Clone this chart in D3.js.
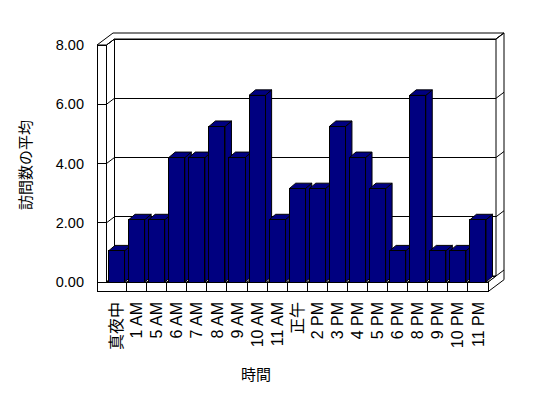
<!DOCTYPE html>
<html>
<head>
<meta charset="utf-8">
<script src="https://cdn.jsdelivr.net/npm/d3@7/dist/d3.min.js"></script>
<style>
  body { margin: 0; background: #fff; }
  text { font-family: "Liberation Sans", Arial, "Noto Sans CJK JP", sans-serif; fill: #000; }
</style>
</head>
<body>
<script>
var categories = ["真夜中", "1 AM", "5 AM", "6 AM", "7 AM", "8 AM", "9 AM", "10 AM", "11 AM", "正午",
                  "2 PM", "3 PM", "4 PM", "5 PM", "6 PM", "8 PM", "9 PM", "10 PM", "11 PM"];
var visits = [1.05, 2.1, 2.1, 4.2, 4.2, 5.25, 4.2, 6.3, 2.1, 3.15,
              3.15, 5.25, 4.2, 3.15, 1.05, 6.3, 1.05, 1.05, 2.1];
var yTicks = [0, 2, 4, 6, 8];
var yTitle = "訪問数の平均";
var xTitle = "時間";

(function(){
    var width = 548, height = 398;
    // front plane of the plot box
    var left = 106.5, right = 488, top = 45, bottom = 282;
    var wall = 9.5, floorH = 9.7;
    var dx = 8, dy = -6;        // depth to back wall
    var bdx = 6.5, bdy = -5.5;  // bar depth
    var navy = "#000080";

    var x = d3.scaleBand()
        .domain(categories)
        .range([left, right])
        .paddingInner(0.2)
        .paddingOuter(0.1);

    var y = d3.scaleLinear()
        .domain([0, 8])
        .range([bottom, top]);

    var fmt = d3.format(".2f");

    var svg = d3.select("body").append("svg")
        .attr("width", width)
        .attr("height", height);

    function poly(pts) { return pts.map(function(p) { return p.join(","); }).join(" "); }

    var box = svg.append("g")
        .attr("fill", "#fff")
        .attr("stroke", "#000")
        .attr("stroke-width", 1);

    // back wall
    box.append("rect")
        .attr("x", left + dx).attr("y", top + dy)
        .attr("width", right - left).attr("height", bottom - top)
        .attr("shape-rendering", "crispEdges");

    // left wall inner face
    box.append("polygon")
        .attr("points", poly([[left, top], [left + dx, top + dy], [left + dx, bottom + dy], [left, bottom]]));

    // top of walls
    box.append("polygon")
        .attr("points", poly([[left - wall, top], [left - wall + 2 * dx, top + 2 * dy], [right + 2 * dx, top + 2 * dy],
                              [right + dx, top + dy], [left + dx, top + dy], [left, top]]));

    // left wall front face
    box.append("rect")
        .attr("x", left - wall).attr("y", top)
        .attr("width", wall).attr("height", bottom - top)
        .attr("shape-rendering", "crispEdges");

    // right end of back wall and floor
    box.append("polygon")
        .attr("points", poly([[right + dx, top + dy], [right + 2 * dx, top + 2 * dy], [right + 2 * dx, bottom + floorH + 2 * dy],
                              [right, bottom + floorH], [right, bottom], [right + dx, bottom + dy]]));

    // floor top
    box.append("polygon")
        .attr("points", poly([[left, bottom], [right, bottom], [right + dx, bottom + dy], [left + dx, bottom + dy]]));

    // floor front face
    box.append("rect")
        .attr("x", left - wall).attr("y", bottom)
        .attr("width", right - left + wall).attr("height", floorH)
        .attr("shape-rendering", "crispEdges");

    // gridlines
    var grid = svg.append("g").attr("stroke", "#000").attr("stroke-width", 1);
    yTicks.forEach(function(t) {
        var yy = y(t);
        grid.append("line").attr("x1", left + dx).attr("x2", right + dx)
            .attr("y1", yy + dy).attr("y2", yy + dy).attr("shape-rendering", "crispEdges");
        grid.append("line").attr("x1", left).attr("x2", left + dx)
            .attr("y1", yy).attr("y2", yy + dy);
        grid.append("line").attr("x1", left - wall).attr("x2", left)
            .attr("y1", yy).attr("y2", yy).attr("shape-rendering", "crispEdges");
        grid.append("line").attr("x1", right + dx).attr("x2", right + 2 * dx)
            .attr("y1", yy + dy).attr("y2", yy + 2 * dy);
    });

    // category dividers on the floor
    var half = x.step() * x.paddingInner() / 2;
    categories.slice(1).forEach(function(c) {
        var bx = x(c) - half;
        grid.append("line").attr("x1", bx).attr("x2", bx)
            .attr("y1", bottom).attr("y2", bottom + floorH).attr("shape-rendering", "crispEdges");
        grid.append("line").attr("x1", bx).attr("x2", bx + dx)
            .attr("y1", bottom).attr("y2", bottom + dy);
    });

    // bars
    var bar = svg.selectAll(".bar")
        .data(categories.map(function(c, i) { return {cat: c, value: visits[i]}; }))
      .enter().append("g")
        .attr("class", "bar")
        .attr("fill", navy)
        .attr("stroke", "#000")
        .attr("stroke-width", 1);

    bar.append("polygon")
        .attr("points", function(d) {
            var x0 = x(d.cat) + x.bandwidth(), yt = y(d.value), yb = y(0);
            return poly([[x0, yb], [x0, yt], [x0 + bdx, yt + bdy], [x0 + bdx, yb + bdy]]);
        });

    bar.append("polygon")
        .attr("points", function(d) {
            var x0 = x(d.cat), x1 = x0 + x.bandwidth(), yt = y(d.value);
            return poly([[x0, yt], [x1, yt], [x1 + bdx, yt + bdy], [x0 + bdx, yt + bdy]]);
        });

    bar.append("rect")
        .attr("x", function(d) { return x(d.cat); })
        .attr("y", function(d) { return y(d.value); })
        .attr("width", x.bandwidth())
        .attr("height", function(d) { return y(0) - y(d.value); })
        .attr("shape-rendering", "crispEdges");

    // y tick labels
    svg.selectAll(".ylab")
        .data(yTicks)
      .enter().append("text")
        .attr("class", "ylab")
        .attr("x", 84)
        .attr("y", function(d) { return y(d); })
        .attr("dy", "0.35em")
        .style("font-size", "14.5px")
        .style("text-anchor", "end")
        .text(function(d) { return fmt(d); });

    // x tick labels
    svg.selectAll(".xlab")
        .data(categories)
      .enter().append("text")
        .attr("class", "xlab")
        .attr("transform", function(d) { return "translate(" + (x(d) + x.bandwidth() / 2) + ",302) rotate(-90)"; })
        .attr("dy", "0.35em")
        .style("font-size", "16px")
        .style("text-anchor", "end")
        .text(function(d) { return d; });

    svg.append("text")
        .attr("transform", "translate(26,165) rotate(-90)")
        .attr("dy", "0.35em")
        .style("font-size", "15px")
        .style("text-anchor", "middle")
        .text(yTitle);

    svg.append("text")
        .attr("x", 256)
        .attr("y", 375)
        .attr("dy", "0.35em")
        .style("font-size", "15px")
        .style("text-anchor", "middle")
        .text(xTitle);
})();
</script>
</body>
</html>
